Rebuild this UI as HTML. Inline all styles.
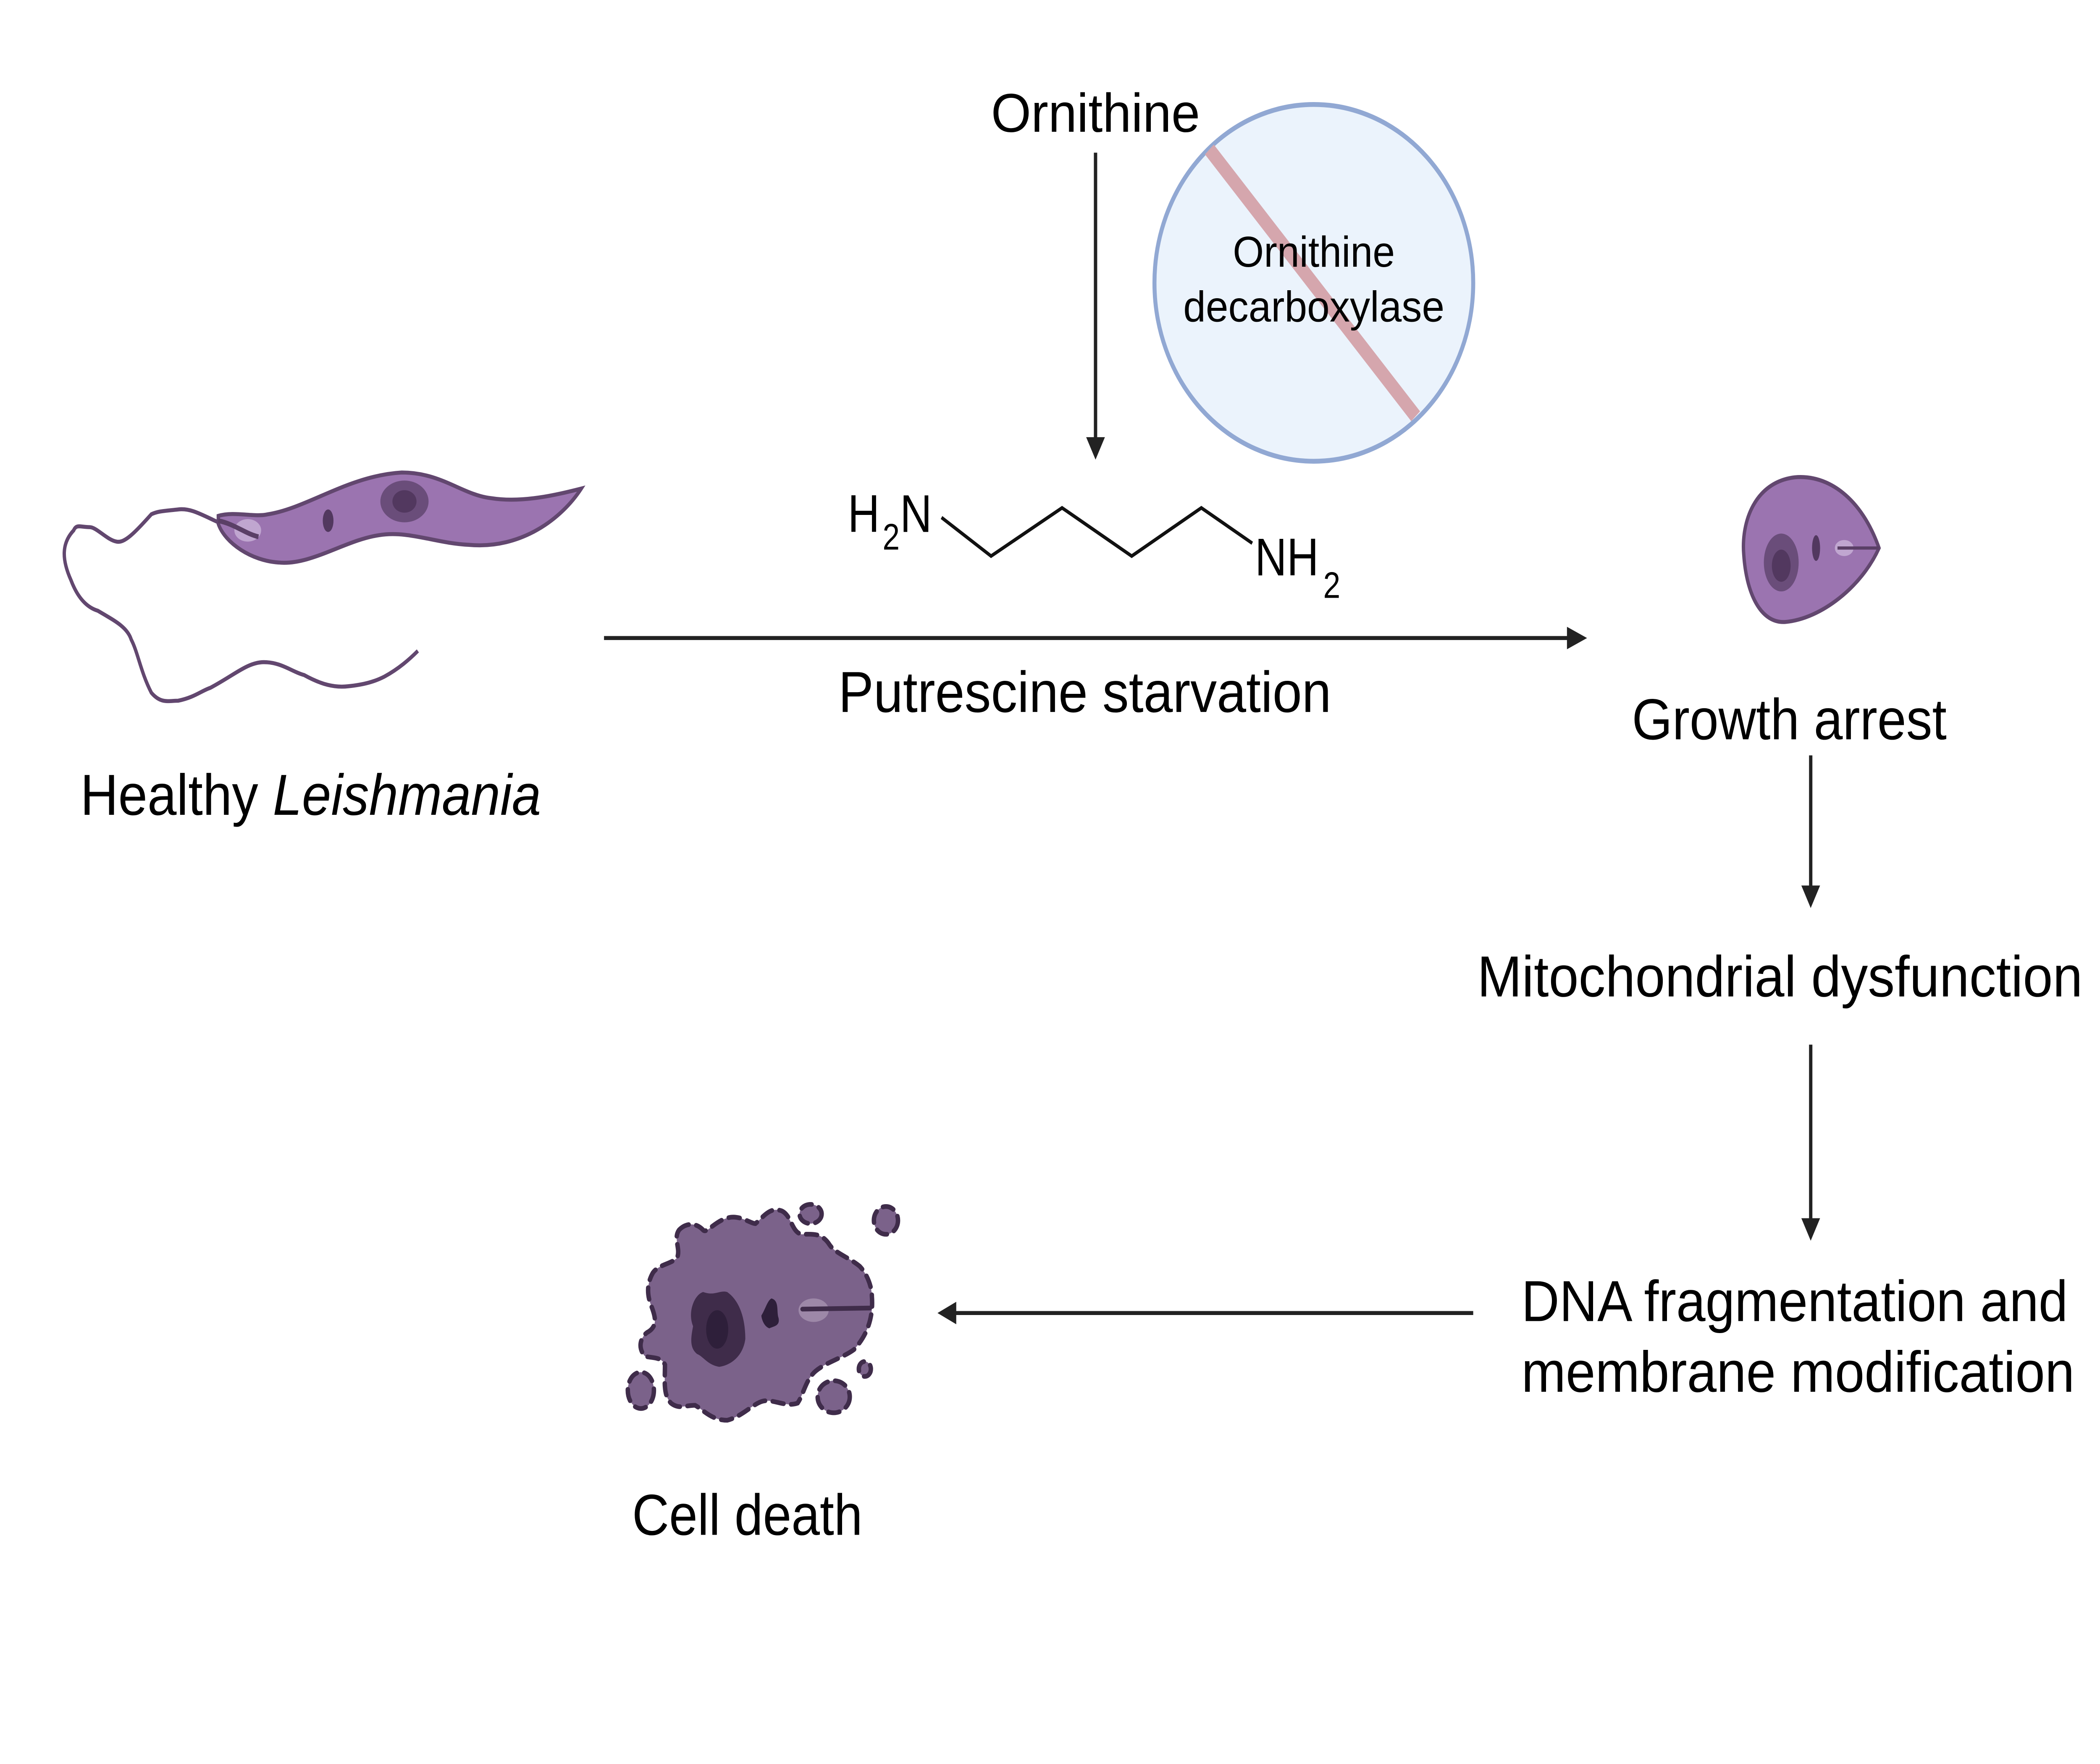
<!DOCTYPE html>
<html><head><meta charset="utf-8"><style>
html,body{margin:0;padding:0;background:#fff;width:100%;height:100%;overflow:hidden;}
svg{display:block;width:100vw;height:100vh;}
text{font-family:"Liberation Sans",sans-serif;fill:#000;}
</style></head><body>
<svg viewBox="0 0 1568 1097.6" preserveAspectRatio="none" xmlns="http://www.w3.org/2000/svg">
<rect width="1568" height="1098" fill="#fff"/>
<text x="818" y="82" font-size="34" text-anchor="middle" textLength="156" lengthAdjust="spacingAndGlyphs">Ornithine</text>
<line x1="818" y1="95" x2="818" y2="274" stroke="#222" stroke-width="2.5"/>
<polygon points="811,272 825,272 818,286" fill="#222"/>
<ellipse cx="981" cy="176" rx="119" ry="111" fill="#ebf3fc" stroke="#91a8d3" stroke-width="3"/>
<line x1="903" y1="93" x2="1057" y2="259" stroke="#d5a6ad" stroke-width="9"/>
<text x="981" y="166" font-size="27" text-anchor="middle" textLength="121" lengthAdjust="spacingAndGlyphs">Ornithine</text>
<text x="981" y="200" font-size="27" text-anchor="middle" textLength="195" lengthAdjust="spacingAndGlyphs">decarboxylase</text>
<text x="633" y="331" font-size="33">H</text>
<text x="659" y="342" font-size="23">2</text>
<text x="672" y="331" font-size="33">N</text>
<polyline points="703,322 740,346 793,316 845,346 897,316 935,338" fill="none" stroke="#111" stroke-width="2.2"/>
<text x="937" y="358" font-size="33">NH</text>
<text x="988" y="372" font-size="23">2</text>
<line x1="451" y1="397" x2="1172" y2="397" stroke="#222" stroke-width="2.5"/>
<polygon points="1170,390 1185,397 1170,404" fill="#222"/>
<text x="810" y="443" font-size="36" text-anchor="middle" textLength="368" lengthAdjust="spacingAndGlyphs">Putrescine starvation</text>
<path d="M193,334 C180,328 170,325 163,325 C150,320 142,316 133,317 C122,318 118,318 113,320 C100,332 93,338 87,337 C80,336 72,328 67,328 C60,328 57,326 55,330 C46,338 46,348 53,361 C58,372 65,378 73,380 C85,386 95,390 98,398 C103,406 105,418 113,431 C120,438 126,436 133,436 C145,434 150,430 157,428 C175,420 185,412 197,412 C210,412 218,418 227,420 C240,426 250,428 260,427 C272,426 280,424 287,421 C298,416 306,410 312,405" fill="none" stroke="#62476f" stroke-width="2.5"/>
<path d="M163,321 C175,318 190,322 200,320 C230,316 260,296 300,294 C330,294 345,308 367,310 C390,313 415,308 434,304 C420,322 390,342 350,339 C325,338 305,330 283,333 C258,336 232,352 208,350 C188,349 168,338 163,326 Z" fill="#9b74b0" stroke="#62476f" stroke-width="2.5"/>
<ellipse cx="185" cy="330" rx="10" ry="7" fill="#c0a6d0"/>
<path d="M163,324 C175,326 183,332 193,334" fill="none" stroke="#5a3f66" stroke-width="3"/>
<ellipse cx="302" cy="312" rx="18" ry="13" fill="#6a4d7a"/>
<ellipse cx="302" cy="312" rx="9" ry="7" fill="#52385f"/>
<ellipse cx="245" cy="324" rx="4" ry="7" fill="#52385f"/>
<text x="60" y="507" font-size="36" textLength="344" lengthAdjust="spacingAndGlyphs">Healthy <tspan font-style="italic">Leishmania</tspan></text>
<path d="M1403,341 C1390,310 1365,295 1340,297 C1310,300 1300,325 1302,345 C1304,370 1315,388 1333,387 C1360,385 1390,365 1403,341Z" fill="#9b74b0" stroke="#62476f" stroke-width="2.5"/>
<ellipse cx="1330" cy="350" rx="13" ry="18" fill="#6a4d7a"/>
<ellipse cx="1330" cy="352" rx="7" ry="10" fill="#52385f"/>
<ellipse cx="1356" cy="341" rx="3" ry="8" fill="#52385f"/>
<ellipse cx="1377" cy="341" rx="7" ry="5" fill="#c0a6d0"/>
<line x1="1372" y1="341" x2="1403" y2="341" stroke="#5a3f66" stroke-width="2"/>
<text x="1336" y="460" font-size="36" text-anchor="middle" textLength="235" lengthAdjust="spacingAndGlyphs">Growth arrest</text>
<line x1="1352" y1="470" x2="1352" y2="553" stroke="#222" stroke-width="2.5"/>
<polygon points="1345,551 1359,551 1352,565" fill="#222"/>
<text x="1329" y="620" font-size="36" text-anchor="middle" textLength="452" lengthAdjust="spacingAndGlyphs">Mitochondrial dysfunction</text>
<line x1="1352" y1="650" x2="1352" y2="760" stroke="#222" stroke-width="2.5"/>
<polygon points="1345,758 1359,758 1352,772" fill="#222"/>
<text x="1136" y="822" font-size="36" textLength="408" lengthAdjust="spacingAndGlyphs">DNA fragmentation and</text>
<text x="1136" y="866" font-size="36" textLength="413" lengthAdjust="spacingAndGlyphs">membrane modification</text>
<line x1="1100" y1="817" x2="712" y2="817" stroke="#222" stroke-width="2.5"/>
<polygon points="714,810 700,817 714,824" fill="#222"/>
<g transform="translate(444,705.5) scale(0.15,0.133)">
<g fill="#7b628a" stroke="#3f2c4a" stroke-width="22" stroke-dasharray="55,38" stroke-linecap="round">
<path d="M420,450 C450,420 500,410 540,450 C560,470 600,400 680,390 C730,385 780,420 800,420 C840,390 870,340 930,360 C980,380 980,460 1030,470 C1080,470 1130,460 1170,520 C1200,560 1270,580 1320,620 C1360,660 1380,720 1380,760 C1390,880 1340,960 1290,1010 C1230,1050 1150,1070 1100,1110 C1050,1150 1040,1220 1010,1260 C950,1280 890,1240 840,1250 C790,1260 740,1320 660,1340 C580,1340 540,1290 500,1270 C450,1270 420,1290 380,1260 C340,1220 350,1160 350,1080 C330,1040 280,1050 250,1040 C220,1010 220,960 260,930 C320,900 300,850 280,800 C260,750 260,700 290,650 C320,610 380,610 410,580 C430,540 390,490 420,450 Z"/>
<ellipse cx="1075" cy="375" rx="55" ry="45"/>
<ellipse cx="1450" cy="405" rx="60" ry="65"/>
<ellipse cx="230" cy="1200" rx="65" ry="85"/>
<ellipse cx="1190" cy="1230" rx="80" ry="75"/>
<ellipse cx="1345" cy="1100" rx="30" ry="35"/>
</g>
<path d="M540,740 C600,760 620,730 660,740 C720,780 750,860 750,960 C740,1030 690,1080 620,1090 C560,1080 540,1040 510,1030 C470,1000 480,950 490,900 C460,830 500,750 540,740Z" fill="#3f2c4a"/>
<ellipse cx="610" cy="915" rx="55" ry="90" fill="#2e1f3a"/>
<path d="M880,770 C920,780 905,830 915,860 C925,900 890,900 870,910 C840,900 830,860 830,850 C850,820 860,780 880,770Z" fill="#2e1f3a"/>
<ellipse cx="1090" cy="825" rx="75" ry="55" fill="#9d88a8"/>
<line x1="1035" y1="820" x2="1370" y2="815" stroke="#3f2c4a" stroke-width="22" stroke-linecap="round"/>
</g>
<text x="558" y="955" font-size="36" text-anchor="middle" textLength="172" lengthAdjust="spacingAndGlyphs">Cell death</text>
</svg>
</body></html>
